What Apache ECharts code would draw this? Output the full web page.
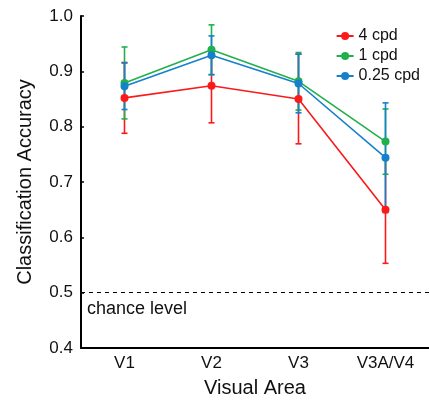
<!DOCTYPE html>
<html>
<head>
	<meta charset="utf-8">
	<title>Classification Accuracy</title>
	<style>
		html, body { margin: 0; padding: 0; background: #fff; }
		#main { width: 429px; height: 401px; }
	</style>
</head>
<body>
<div id="main"></div>
<script type="text/javascript" src="https://cdn.jsdelivr.net/npm/echarts@6/dist/echarts.min.js"></script>
<script type="text/javascript">
	var areas = ['V1', 'V2', 'V3', 'V3A/V4'];
	var seriesNames = ['4 cpd', '1 cpd', '0.25 cpd'];

	// mean accuracy per area
	var acc4 = [0.852, 0.874, 0.850, 0.650];
	var acc1 = [0.879, 0.939, 0.882, 0.773];
	var acc025 = [0.873, 0.929, 0.878, 0.744];

	// error bar half-lengths
	var err4 = [0.064, 0.067, 0.081, 0.097];
	var err1 = [0.065, 0.045, 0.052, 0.059];
	var err025 = [0.042, 0.035, 0.053, 0.099];

	var chance = 0.5;
	var yTicks = [0.4, 0.5, 0.6, 0.7, 0.8, 0.9, 1.0];

	var colors = ['#fa1a1a', '#20b04c', '#1580cc'];
	var font = 'Liberation Sans, Arial, Helvetica, sans-serif';

	var myChart = echarts.init(document.getElementById('main'));

	function errData(vals, errs) {
		var out = [];
		for (var i = 0; i < vals.length; i++) {
			out.push([i, vals[i] - errs[i], vals[i] + errs[i]]);
		}
		return out;
	}

	function errSeries(name, vals, errs, color) {
		return {
			name: name + ' sem',
			type: 'custom',
			data: errData(vals, errs),
			z: 3,
			renderItem: function (params, api) {
				var x = api.value(0);
				var lo = api.coord([x, api.value(1)]);
				var hi = api.coord([x, api.value(2)]);
				var w = 3;
				var style = { stroke: color, lineWidth: 1.6 };
				return {
					type: 'group',
					children: [
						{ type: 'line', shape: { x1: lo[0], y1: lo[1], x2: hi[0], y2: hi[1] }, style: style },
						{ type: 'line', shape: { x1: lo[0] - w, y1: lo[1], x2: lo[0] + w, y2: lo[1] }, style: style },
						{ type: 'line', shape: { x1: hi[0] - w, y1: hi[1], x2: hi[0] + w, y2: hi[1] }, style: style }
					]
				};
			}
		};
	}

	function lineSeries(name, vals, color) {
		return {
			name: name,
			type: 'line',
			data: vals,
			symbol: 'circle',
			symbolSize: 8,
			z: 4,
			itemStyle: { color: color },
			lineStyle: { color: color, width: 1.6 }
		};
	}

	var line4 = lineSeries(seriesNames[0], acc4, colors[0]);
	line4.markLine = {
		silent: true,
		symbol: 'none',
		lineStyle: { color: '#000', type: [4, 4], width: 1 },
		label: {
			show: true,
			position: 'insideStartBottom',
			formatter: 'chance level',
			color: '#111',
			fontFamily: font,
			fontSize: 18,
			distance: [6, 7]
		},
		data: [{ yAxis: chance }]
	};

	var option = {
		backgroundColor: '#fff',
		animation: false,
		color: colors,
		textStyle: { fontFamily: font },
		grid: { left: 81, right: 0, top: 16, bottom: 53, outerBoundsMode: 'none' },
		legend: {
			orient: 'vertical',
			right: 4,
			top: 23,
			itemGap: 4,
			itemWidth: 17,
			itemHeight: 10,
			data: seriesNames,
			textStyle: { fontSize: 16, color: '#111', fontFamily: font }
		},
		xAxis: {
			type: 'category',
			data: areas,
			name: 'Visual Area',
			nameLocation: 'middle',
			nameGap: 30,
			nameTextStyle: { fontSize: 20, color: '#111', fontFamily: font },
			axisLine: { lineStyle: { color: '#000', width: 2 } },
			axisTick: { inside: true, alignWithLabel: true, length: 3, lineStyle: { color: '#000', width: 1.5 } },
			axisLabel: { fontSize: 17, color: '#111', margin: 7, fontFamily: font },
			splitLine: { show: false }
		},
		yAxis: {
			type: 'value',
			min: yTicks[0],
			max: yTicks[yTicks.length - 1],
			interval: 0.1,
			name: 'Classification Accuracy',
			nameLocation: 'middle',
			nameGap: 46,
			nameTextStyle: { fontSize: 20, color: '#111', fontFamily: font },
			axisLine: { show: true, lineStyle: { color: '#000', width: 2 } },
			axisTick: { show: true, inside: true, length: 3, lineStyle: { color: '#000', width: 1.5 } },
			axisLabel: {
				fontSize: 17, color: '#111', margin: 8, fontFamily: font,
				formatter: function (v) { return v.toFixed(1); }
			},
			splitLine: { show: false }
		},
		series: [
			errSeries(seriesNames[0], acc4, err4, colors[0]),
			errSeries(seriesNames[1], acc1, err1, colors[1]),
			errSeries(seriesNames[2], acc025, err025, colors[2]),
			line4,
			lineSeries(seriesNames[1], acc1, colors[1]),
			lineSeries(seriesNames[2], acc025, colors[2])
		]
	};
	myChart.setOption(option);
</script>
</body>
</html>
